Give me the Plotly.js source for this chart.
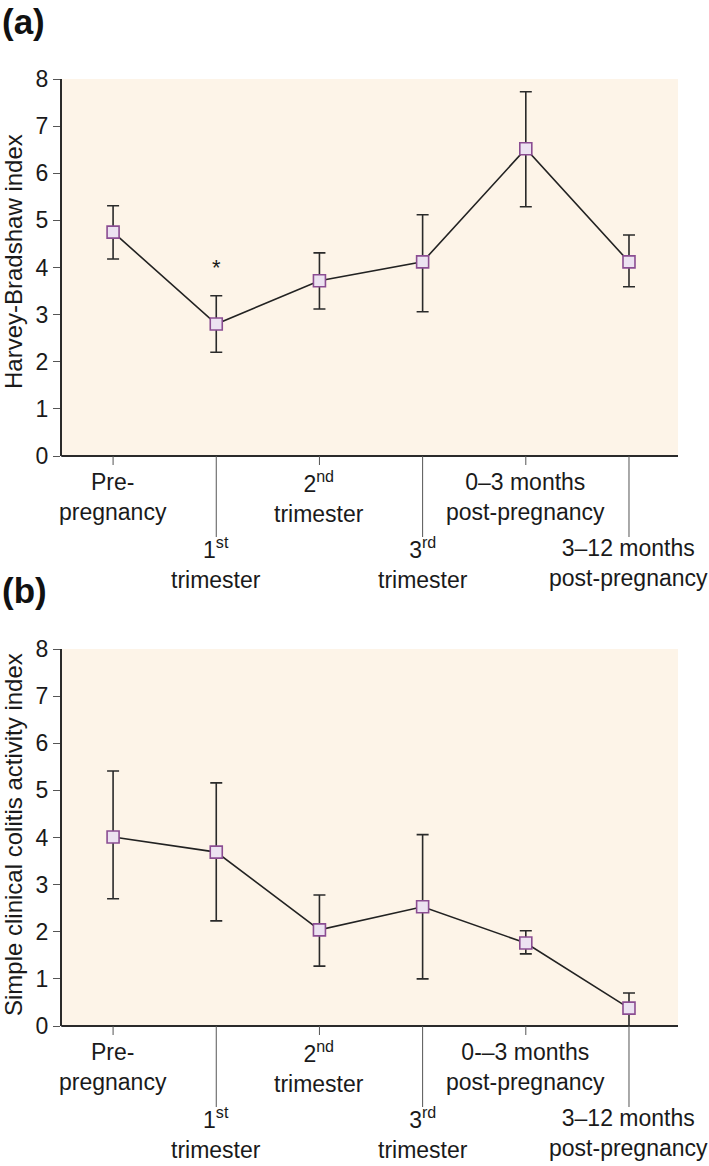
<!DOCTYPE html>
<html>
<head>
<meta charset="utf-8">
<script src="https://cdn.plot.ly/plotly-3.0.1.min.js"></script>
<style>
html,body{margin:0;padding:0;background:#fff;}
#chart{width:709px;height:1166px;}
</style>
</head>
<body>
<div id="chart"></div>
<script>
// ---- data ----
const categories = [0, 1, 2, 3, 4, 5];
const tickLabelsA = [
  "Pre-<br>pregnancy",
  "1<sup>st</sup><br>trimester",
  "2<sup>nd</sup><br>trimester",
  "3<sup>rd</sup><br>trimester",
  "0–3 months<br>post-pregnancy",
  "3–12 months<br>post-pregnancy"
];
const tickLabelsB = [
  "Pre-<br>pregnancy",
  "1<sup>st</sup><br>trimester",
  "2<sup>nd</sup><br>trimester",
  "3<sup>rd</sup><br>trimester",
  "0-–3 months<br>post-pregnancy",
  "3–12 months<br>post-pregnancy"
];
const hbiMean  = [4.75, 2.80, 3.72, 4.12, 6.52, 4.12];
const hbiUpper = [5.31, 3.40, 4.31, 5.12, 7.73, 4.69];
const hbiLower = [4.18, 2.20, 3.12, 3.06, 5.29, 3.59];
const sccaiMean  = [4.01, 3.69, 2.04, 2.53, 1.76, 0.38];
const sccaiUpper = [5.41, 5.16, 2.78, 4.06, 2.02, 0.70];
const sccaiLower = [2.70, 2.23, 1.27, 1.00, 1.53, 0.00];
const starX = [1];
const starY = [4.01];
const yTitleA = "Harvey-Bradshaw index";
const yTitleB = "Simple clinical colitis activity index";

// ---- styling ----
const FONT = "Liberation Sans, Arial, Helvetica, sans-serif";
const TXT = "#1a1a1a";
const W = 709, H = 1166;
const plotL = 62, plotR = 678;
const aTop = 79, aBot = 456, bTop = 649, bBot = 1026;
const px2py = p => 1 - p / H;

function trace(mean, up, lo, xa, ya) {
  return {
    x: categories, y: mean, xaxis: xa, yaxis: ya,
    type: "scatter", mode: "lines+markers",
    line: {color: "#222", width: 1.6},
    marker: {symbol: "square", size: 12, color: "#ece2f1",
             line: {color: "#8b4d92", width: 1.6}},
    error_y: {type: "data", symmetric: false,
              array: up.map((u, i) => u - mean[i]),
              arrayminus: lo.map((l, i) => mean[i] - l),
              color: "#2a2a2a", thickness: 1.6, width: 6},
    cliponaxis: false, hoverinfo: "skip", showlegend: false
  };
}

const data = [
  trace(hbiMean, hbiUpper, hbiLower, "x", "y"),
  trace(sccaiMean, sccaiUpper, sccaiLower, "x2", "y2")
];

const xr = [-0.495, 5.475];
const xcommon = {range: xr, showgrid: false, zeroline: false, showticklabels: false,
  ticks: "", showline: false, fixedrange: true,
  domain: [plotL / W, plotR / W]};
const ycommon = {range: [0, 8], dtick: 1, showgrid: false, zeroline: false,
  showline: true, linecolor: "#2a2a2a", linewidth: 2, mirror: false,
  ticks: "outside", ticklen: 7, tickwidth: 1, tickcolor: "#555",
  tickfont: {family: FONT, size: 23, color: TXT}, fixedrange: true};

const shapes = [];
const annotations = [];
function addAxis(xref, yrefDom, labels) {
  shapes.push({type: "line", xref: "paper", yref: yrefDom,
    x0: plotL / W - 0.001, x1: plotR / W, y0: 0, y1: 0,
    line: {color: "#2a2a2a", width: 2.2}});
  categories.forEach((c, i) => {
    const long = i % 2 === 1;
    shapes.push({type: "line", xref: xref, yref: yrefDom,
      x0: c, x1: c, y0: 0, y1: long ? -81 / 377 : -9 / 377,
      line: {color: "#555", width: 1}});
    annotations.push({xref: xref, yref: yrefDom, x: c,
      y: long ? -107 / 377 : -41 / 377,
      yanchor: "middle", xanchor: "center", showarrow: false,
      text: labels[i], font: {family: FONT, size: 23, color: TXT}});
  });
}
addAxis("x", "y domain", tickLabelsA);
addAxis("x2", "y2 domain", tickLabelsB);

starX.forEach((sx, i) => annotations.push({xref: "x", yref: "y", x: sx, y: starY[i],
  showarrow: false, text: "*", font: {family: FONT, size: 22, color: TXT},
  yanchor: "middle"}));

annotations.push({xref: "paper", yref: "paper", x: 0, y: px2py(21), xanchor: "left",
  yanchor: "middle", showarrow: false, text: "<b>(a)</b>",
  font: {family: FONT, size: 35, color: "#111"}});
annotations.push({xref: "paper", yref: "paper", x: 0, y: px2py(590), xanchor: "left",
  yanchor: "middle", showarrow: false, text: "<b>(b)</b>",
  font: {family: FONT, size: 35, color: "#111"}});
annotations.push({xref: "paper", yref: "paper", x: 13 / W, y: px2py(262),
  xanchor: "center", yanchor: "middle", showarrow: false, textangle: -90,
  text: yTitleA, font: {family: FONT, size: 24, color: TXT}});
annotations.push({xref: "paper", yref: "paper", x: 13 / W, y: px2py(835),
  xanchor: "center", yanchor: "middle", showarrow: false, textangle: -90,
  text: yTitleB, font: {family: FONT, size: 24, color: TXT}});

const layout = {
  width: W, height: H,
  margin: {l: 0, r: 0, t: 0, b: 0},
  paper_bgcolor: "#ffffff",
  plot_bgcolor: "#fdf4e8",
  xaxis: Object.assign({}, xcommon, {anchor: "y"}),
  xaxis2: Object.assign({}, xcommon, {anchor: "y2"}),
  yaxis: Object.assign({}, ycommon, {anchor: "x", domain: [px2py(aBot), px2py(aTop)]}),
  yaxis2: Object.assign({}, ycommon, {anchor: "x2", domain: [px2py(bBot), px2py(bTop)]}),
  shapes: shapes,
  annotations: annotations,
  showlegend: false
};

Plotly.newPlot("chart", data, layout, {displayModeBar: false, staticPlot: true});
</script>
</body>
</html>
